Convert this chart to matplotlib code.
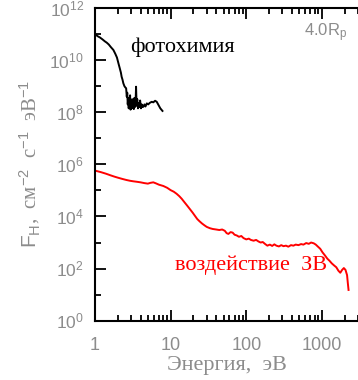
import numpy as np
import matplotlib
matplotlib.use("Agg")
import matplotlib.pyplot as plt
from matplotlib.ticker import LogLocator, NullFormatter, FixedLocator

# Photochemical source (energy in eV, log10 of flux)
photo_energy = [1.0, 1.08, 1.16, 1.25, 1.35, 1.43, 1.52, 1.62, 1.75, 1.85, 1.95, 2.04,
                2.12, 2.2, 2.25, 2.31, 2.37, 2.45, 2.52, 2.58, 2.63, 2.67, 2.71, 2.75,
                2.79, 2.83, 2.87, 2.91, 2.95, 3.0, 3.05, 3.1, 3.15, 3.2, 3.26, 3.32,
                3.38, 3.44, 3.49, 3.55, 3.62, 3.7, 3.78, 3.86, 3.95, 4.05, 4.15, 4.25,
                4.37, 4.5, 4.65, 4.84, 5.05, 5.3, 5.63, 5.9, 6.23, 6.55, 6.9, 7.3, 7.8]
photo_logflux = [11.0, 10.92, 10.87, 10.8, 10.72, 10.67, 10.6, 10.5, 10.39, 10.25, 10.1, 9.88,
                 9.7, 9.52, 9.36, 9.25, 9.11, 9.0, 8.95, 8.92, 8.6, 8.75, 8.3, 8.55,
                 8.15, 8.45, 8.2, 8.65, 8.1, 8.4, 8.15, 8.5, 8.2, 8.35, 8.12, 8.55,
                 8.2, 8.4, 8.98, 8.25, 8.5, 8.15, 8.35, 8.2, 8.45, 8.15, 8.3, 8.2,
                 8.21, 8.3, 8.22, 8.34, 8.3, 8.36, 8.4, 8.38, 8.44, 8.4, 8.28, 8.15, 8.05]

# Electron impact source
impact_energy = [1.0, 1.2, 1.4, 1.6, 1.8, 2.0, 2.3, 2.6, 2.9, 3.2, 3.6, 4.0, 4.5, 5.0,
                 5.4, 5.9, 6.4, 7.0, 8.0, 9.0, 10.0, 11.0, 12.0, 13.0, 14.0, 15.0,
                 16.5, 18.0, 19.5, 21.0, 22.5, 24.0, 26.0, 28.0, 30.0, 33.0, 36.0,
                 40.0, 44.0, 48.0, 52.0, 55.0, 58.0, 62.0, 66.0, 70.0, 75.0, 80.0,
                 86.0, 92.0, 100, 108, 115, 125, 135, 145, 155, 165, 178, 190, 205,
                 220, 235, 250, 270, 290, 310, 335, 360, 390, 420, 450, 490, 530,
                 570, 620, 670, 720, 780, 830, 880, 950, 1020, 1100, 1180, 1260,
                 1350, 1450, 1550, 1650, 1750, 1850, 1950, 2050, 2150, 2200, 2250]
impact_logflux = [5.76, 5.70, 5.64, 5.58, 5.53, 5.49, 5.44, 5.40, 5.37, 5.35, 5.33, 5.31,
                  5.28, 5.26, 5.29, 5.31, 5.27, 5.22, 5.17, 5.10, 5.01, 4.95, 4.87,
                  4.78, 4.68, 4.57, 4.42, 4.28, 4.15, 4.02, 3.90, 3.82, 3.73, 3.66,
                  3.60, 3.55, 3.52, 3.50, 3.48, 3.50, 3.45, 3.36, 3.33, 3.40, 3.38,
                  3.30, 3.27, 3.22, 3.25, 3.17, 3.12, 3.15, 3.10, 3.07, 3.10, 3.04,
                  3.00, 3.02, 2.94, 2.88, 2.92, 2.87, 2.93, 2.88, 2.85, 2.90, 2.86,
                  2.88, 2.84, 2.90, 2.88, 2.92, 2.90, 2.94, 2.92, 2.98, 2.95, 3.00,
                  2.97, 2.92, 2.85, 2.76, 2.62, 2.50, 2.38, 2.30, 2.20, 2.12, 2.05,
                  1.92, 1.84, 1.95, 2.02, 1.95, 1.75, 1.45, 1.18]

x_ticks = [1, 10, 100, 1000]
x_ticklabels = ["1", "10", "100", "1000"]
y_ticks = [1e0, 1e2, 1e4, 1e6, 1e8, 1e10, 1e12]
y_ticklabels = [r"$10^{%d}$" % int(np.log10(v)) for v in y_ticks]

plt.rcParams["mathtext.fontset"] = "custom"
plt.rcParams["mathtext.rm"] = "Liberation Sans"
plt.rcParams["mathtext.it"] = "Liberation Sans"
plt.rcParams["mathtext.default"] = "rm"

gray = "#8c8c8c"
serif = ["Liberation Serif"]

fig = plt.figure(figsize=(3.58, 3.80), dpi=100)
ax = fig.add_axes([95 / 358, 1 - 320.7 / 380, 1 - 95 / 358, (320.7 - 8) / 380])

ax.plot(photo_energy, 10 ** np.array(photo_logflux), color="black", lw=1.4)
ax.plot(impact_energy, 10 ** np.array(impact_logflux), color="red", lw=1.4)

ax.set_xscale("log")
ax.set_yscale("log")
ax.set_xlim(1, 3000)
ax.set_ylim(1e0, 1e12)

ax.spines["right"].set_visible(False)
for s in ("left", "top", "bottom"):
    ax.spines[s].set_linewidth(1.5)

ax.xaxis.set_major_locator(FixedLocator(x_ticks))
ax.set_xticklabels(x_ticklabels, fontsize=13, color=gray, family="Liberation Sans")
ax.xaxis.set_minor_locator(LogLocator(base=10, subs=np.arange(2, 10)))
ax.xaxis.set_minor_formatter(NullFormatter())
ax.yaxis.set_major_locator(FixedLocator(y_ticks))
ax.set_yticklabels(y_ticklabels, fontsize=12.5, color=gray)
ax.yaxis.set_minor_locator(FixedLocator([1e1, 1e3, 1e5, 1e7, 1e9, 1e11]))
ax.yaxis.set_minor_formatter(NullFormatter())

ax.tick_params(which="both", direction="in", top=True, right=False, width=1.3)
ax.tick_params(which="major", length=8)
ax.tick_params(which="minor", length=4.5)
ax.tick_params(axis="y", which="major", pad=8)
ax.tick_params(axis="x", which="major", pad=12)

ax.set_xlabel("Энергия,  эВ", family=serif, fontsize=16, color=gray, labelpad=1)
ax.set_ylabel(r"$F_H$,  см$^{-2}$  с$^{-1}$  эВ$^{-1}$", family=serif, fontsize=15,
              color=gray, labelpad=5)

ax.text(2.9, 10 ** 10.5, "фотохимия", family=serif, fontsize=16, color="black",
        ha="left", va="center")
ax.text(11.5, 10 ** 2.14, "воздействие  ЗВ", family=serif, fontsize=16, color="red",
        ha="left", va="center")
ax.text(2150, 10 ** 11.05, r"4.0R$_\mathregular{p}$", family="Liberation Sans",
        fontsize=12, color=gray, ha="right", va="center")

fig.savefig("out.png", dpi=100)
